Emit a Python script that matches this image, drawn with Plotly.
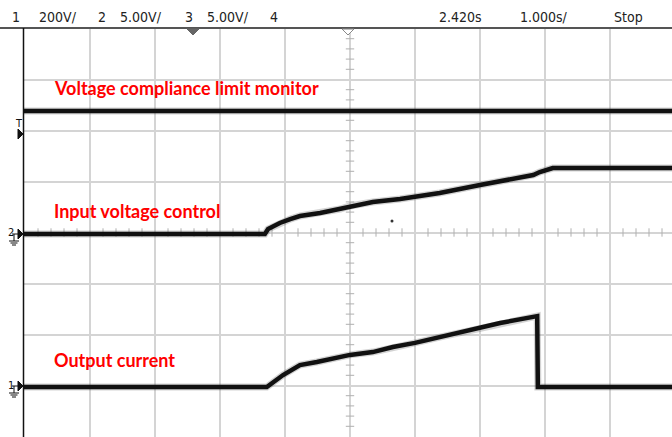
import plotly.graph_objects as go

time_per_div = 1.0          # s/div
ch1_scale = 200.0           # mA/div  (output current)
ch2_scale = 5.0             # V/div   (input voltage control)
ch3_scale = 5.0             # V/div   (compliance monitor)
ch1_offset_div = -3.02      # ground marker of ch1 (divisions from centre)
ch2_offset_div = 0.0
ch3_offset_div = 0.0

header_labels = ["1", "200V/", "2", "5.00V/", "3", "5.00V/", "4", "2.420s", "1.000s/", "Stop"]

t_comp = [-5.02, 4.96]
v_comp = [11.9, 11.9]

t_input = [-5.02, -1.31, -1.26, -1.08, -0.92, -0.77, -0.46, -0.15, 0.0, 0.35,
           0.77, 1.18, 1.38, 2.0, 2.42, 2.82, 2.92, 3.12, 4.96]
v_input = [-0.15, -0.15, 0.34, 0.93, 1.32, 1.62, 1.91, 2.30, 2.60, 2.99,
           3.28, 3.68, 3.87, 4.66, 5.15, 5.64, 5.93, 6.32, 6.32]

t_current = [-5.02, -1.28, -1.03, -0.77, -0.51, 0.0, 0.35, 0.66, 1.0, 1.38,
             2.0, 2.31, 2.88, 2.89, 4.96]
i_current = [-2, -2, 45, 84, 96, 124, 135, 155, 171, 194,
             229, 249, 276, -2, -2]

label_texts = ["Voltage compliance limit monitor", "Input voltage control", "Output current"]

# ---------------- figure geometry ----------------
W, H = 672, 437
L, T = 24, 28
PW, PH = W - L, H - T
X0 = (L - 350) / 65.0
X1 = (W - 350) / 65.0
Y0 = (232.5 - H) / 51.0
Y1 = (232.5 - T) / 51.0


def px(x):
    return (x - L) / PW


def py(y):
    return (H - y) / PH


def to_div(vals, scale, off):
    return [v / scale + off for v in vals]


fig = go.Figure()

# minor ticks on centre axes
tick_x_h = [k / 5.0 for k in range(-25, 26) if k % 5 != 0]
tick_y_v = [k / 5.0 for k in range(-20, 21) if k % 5 != 0]
fig.add_trace(go.Scatter(x=tick_x_h, y=[0] * len(tick_x_h), mode="markers",
                         marker=dict(symbol="line-ns-open", size=6, color="#b0b0b0",
                                     line=dict(width=1, color="#b0b0b0")),
                         hoverinfo="skip", showlegend=False))
fig.add_trace(go.Scatter(x=[0] * len(tick_y_v), y=tick_y_v, mode="markers",
                         marker=dict(symbol="line-ew-open", size=6, color="#b0b0b0",
                                     line=dict(width=1, color="#b0b0b0")),
                         hoverinfo="skip", showlegend=False))

traces = [
    (t_comp, to_div(v_comp, ch3_scale, ch3_offset_div)),
    (t_input, to_div(v_input, ch2_scale, ch2_offset_div)),
    (t_current, to_div(i_current, ch1_scale, ch1_offset_div)),
]
for tx, ty in traces:
    txd = [t / time_per_div for t in tx]
    fig.add_trace(go.Scatter(x=txd, y=ty, mode="lines",
                             line=dict(color="rgba(80,80,80,0.25)", width=7),
                             hoverinfo="skip", showlegend=False))
    fig.add_trace(go.Scatter(x=txd, y=ty, mode="lines",
                             line=dict(color="#111111", width=4.5),
                             hoverinfo="skip", showlegend=False))

# red labels
label_pos = [(52, 88), (52, 211), (52, 360)]
for txt, (lx, ly) in zip(label_texts, label_pos):
    fig.add_annotation(x=px(lx), y=py(ly), xref="paper", yref="paper", text=txt,
                       showarrow=False, xanchor="left", yanchor="middle",
                       font=dict(family="Lato", size=18, color="#ff0000", weight="bold"))

# header texts
header_pos = [10, 37, 96, 118, 183, 205, 268, 437, 518, 612]
for txt, hx in zip(header_labels, header_pos):
    fig.add_annotation(x=px(hx), y=py(17), xref="paper", yref="paper", text=txt,
                       showarrow=False, xanchor="left", yanchor="middle",
                       font=dict(family="DejaVu Sans Condensed, Liberation Sans Narrow, sans-serif",
                                 size=14, color="#222222"))

shapes = []
# header separator
shapes.append(dict(type="line", xref="paper", yref="paper", x0=px(0), x1=px(W),
                   y0=py(28), y1=py(28), line=dict(color="#555555", width=2)))
# left axis line
shapes.append(dict(type="line", xref="paper", yref="paper", x0=px(23.5), x1=px(23.5),
                   y0=py(28), y1=py(H), line=dict(color="#111111", width=1.5)))
# top markers
shapes.append(dict(type="path", xref="paper", yref="paper",
                   path=f"M {px(187)} {py(29)} L {px(199)} {py(29)} L {px(193)} {py(35)} Z",
                   fillcolor="#666666", line=dict(color="#666666", width=1)))
shapes.append(dict(type="path", xref="paper", yref="paper",
                   path=f"M {px(342)} {py(29)} L {px(354)} {py(29)} L {px(348)} {py(35)} Z",
                   fillcolor="white", line=dict(color="#888888", width=1)))
# channel arrows on left
for ay in [134, 234, 386]:
    shapes.append(dict(type="path", xref="paper", yref="paper",
                       path=f"M {px(18)} {py(ay-5)} L {px(23)} {py(ay)} L {px(18)} {py(ay+5)} Z",
                       fillcolor="#111111", line=dict(color="#111111", width=1)))
# ground symbols
for gy in [234, 386]:
    shapes.append(dict(type="line", xref="paper", yref="paper", x0=px(12), x1=px(18),
                       y0=py(gy), y1=py(gy), line=dict(color="#111111", width=1)))
    shapes.append(dict(type="line", xref="paper", yref="paper", x0=px(14), x1=px(14),
                       y0=py(gy), y1=py(gy + 7), line=dict(color="#111111", width=1)))
    for k, hw in enumerate([5, 3.5, 2]):
        shapes.append(dict(type="line", xref="paper", yref="paper", x0=px(14 - hw), x1=px(14 + hw),
                           y0=py(gy + 7 + 2 * k), y1=py(gy + 7 + 2 * k),
                           line=dict(color="#111111", width=1)))
fig.update_layout(shapes=shapes)

# channel numbers / trigger letter
for txt, (cx, cy) in zip(["T", "2", "1"], [(19, 124), (11, 233), (11, 385)]):
    fig.add_annotation(x=px(cx), y=py(cy), xref="paper", yref="paper", text=txt,
                       showarrow=False, xanchor="center", yanchor="middle",
                       font=dict(family="DejaVu Sans Condensed, sans-serif", size=11, color="#111111"))

# stray dot
fig.add_trace(go.Scatter(x=[(392 - 350) / 65.0], y=[(232.5 - 221) / 51.0], mode="markers",
                         marker=dict(size=3, color="#333333"), hoverinfo="skip", showlegend=False))

fig.update_layout(
    width=W, height=H,
    margin=dict(l=L, r=0, t=T, b=0),
    paper_bgcolor="white", plot_bgcolor="white",
    xaxis=dict(range=[X0, X1], tick0=0, dtick=1, showgrid=True, gridcolor="#d4d4d4", gridwidth=1.5,
               zeroline=False, showticklabels=False, ticks="", showline=False, fixedrange=True),
    yaxis=dict(range=[Y0, Y1], tick0=0, dtick=1, showgrid=True, gridcolor="#d4d4d4", gridwidth=1.5,
               zeroline=False, showticklabels=False, ticks="", showline=False, fixedrange=True),
    showlegend=False,
)

fig.write_html("out.html", config={"displayModeBar": False},
               post_script="document.body.style.margin='0';document.body.style.overflow='hidden';")
